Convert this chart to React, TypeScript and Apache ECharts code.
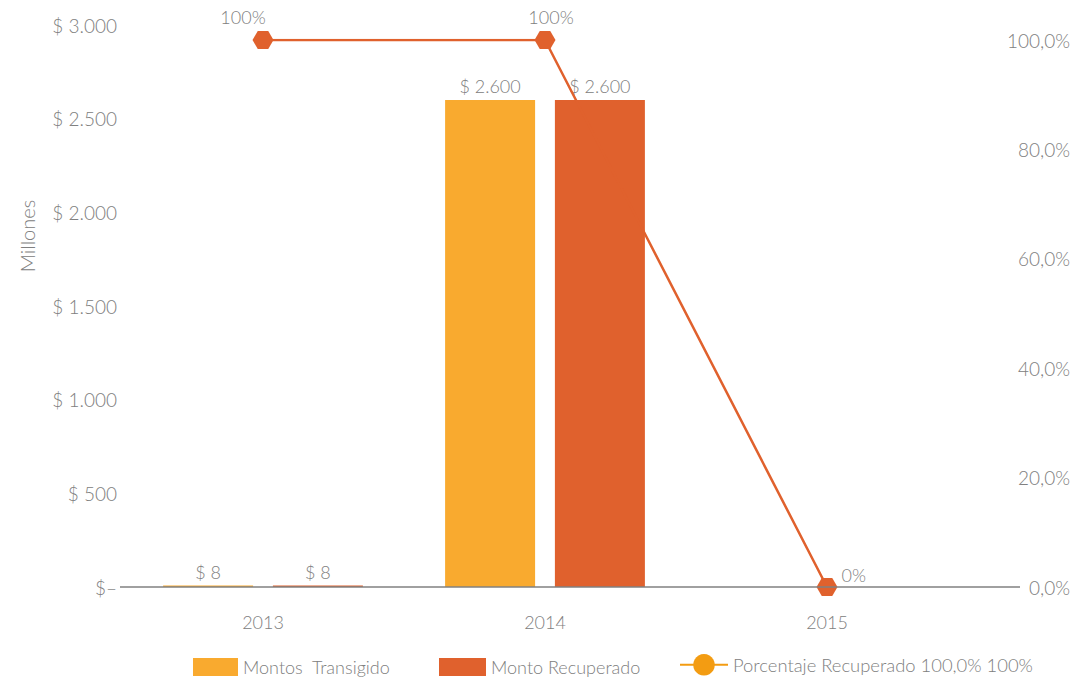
import React, { useEffect, useRef } from "react";
import * as echarts from "echarts";

const categories = ["2013", "2014", "2015"];
const montosTransigido = [8, 2600, 0];
const montoRecuperado = [8, 2600, 0];
const porcentajeRecuperado = [1, 1, 0];
const pctLabels = ["100%", "100%", "0%"];
const leftTicks = [0, 500, 1000, 1500, 2000, 2500, 3000];

const GRAY = "#808080";
const FONT = "Lato";
const W300 = 300;
const ORANGE = "#F9AA2F";
const RED = "#E0612D";

const fmtMoney = (v: number) =>
  v === 0 ? "$\u2013" : "$ " + String(v).replace(/\B(?=(\d{3})+(?!\d))/g, ".");

export default function App() {
  const ref = useRef<HTMLDivElement>(null);
  useEffect(() => {
    if (!ref.current) return;
    const chart = echarts.init(ref.current, null, { renderer: "svg" });
    const H = 685;
    const gridLeft = 122;
    const gridRight = 123;
    const gridBottom = 98;
    const zeroY = H - gridBottom;
    const hexagon = "path://M0,5 L3,0 L9,0 L12,5 L9,10 L3,10 Z";
    const txt = { color: GRAY, fontFamily: FONT, fontWeight: W300 };
    chart.setOption({
      animation: false,
      textStyle: { fontFamily: FONT },
      grid: [
        { left: gridLeft, right: gridRight, top: 25, bottom: gridBottom },
        { left: gridLeft, right: gridRight, top: 40, bottom: gridBottom },
      ],
      xAxis: [
        {
          type: "category",
          gridIndex: 0,
          data: categories,
          axisLine: { show: false },
          axisTick: { show: false },
          axisLabel: { ...txt, fontSize: 18, margin: 26 },
        },
        {
          type: "category",
          gridIndex: 1,
          data: categories,
          show: false,
        },
      ],
      yAxis: [
        {
          type: "value",
          gridIndex: 0,
          min: 0,
          max: 3000,
          interval: 500,
          splitLine: { show: false },
          axisLine: { show: false },
          axisTick: { show: false },
          axisLabel: {
            ...txt,
            fontSize: 19,
            margin: 5,
            formatter: (v: number) => (leftTicks.includes(v) ? fmtMoney(v) : ""),
          },
        },
        {
          type: "value",
          gridIndex: 1,
          position: "right",
          min: 0,
          max: 1,
          interval: 0.2,
          splitLine: { show: false },
          axisLine: { show: false },
          axisTick: { show: false },
          axisLabel: {
            ...txt,
            fontSize: 19,
            align: "right",
            margin: 102,
            formatter: (v: number) => (v * 100).toFixed(1).replace(".", ",") + "%",
          },
        },
      ],
      legend: [
        {
          left: 188,
          top: 653,
          itemWidth: 45,
          itemHeight: 18,
          icon: "rect",
          textStyle: { ...txt, fontSize: 18 },
          data: ["Montos  Transigido"],
        },
        {
          left: 434,
          top: 653,
          itemWidth: 47,
          itemHeight: 18,
          icon: "rect",
          textStyle: { ...txt, fontSize: 18 },
          data: ["Monto Recuperado"],
        },
        {
          left: 674,
          top: 649,
          itemWidth: 48,
          itemHeight: 27,
          textStyle: { ...txt, fontSize: 18.4 },
          data: ["Porcentaje Recuperado 100,0% 100%"],
        },
      ],
      series: [
        {
          name: "Montos  Transigido",
          type: "bar",
          xAxisIndex: 0,
          yAxisIndex: 0,
          data: montosTransigido,
          barWidth: 90,
          barGap: "22%",
          itemStyle: { color: ORANGE },
          label: {
            show: true,
            position: "top",
            distance: 5,
            ...txt,
            fontSize: 18,
            formatter: (p: any) => (p.value === 0 ? "" : fmtMoney(p.value)),
          },
        },
        {
          name: "Monto Recuperado",
          type: "bar",
          xAxisIndex: 0,
          yAxisIndex: 0,
          data: montoRecuperado,
          barWidth: 90,
          barGap: "22%",
          itemStyle: { color: RED },
          label: {
            show: true,
            position: "top",
            distance: 5,
            ...txt,
            fontSize: 18,
            formatter: (p: any) => (p.value === 0 ? "" : fmtMoney(p.value)),
          },
        },
        {
          name: "Porcentaje",
          type: "line",
          xAxisIndex: 1,
          yAxisIndex: 1,
          z: 5,
          symbol: hexagon,
          symbolSize: [21, 18],
          itemStyle: { color: RED },
          lineStyle: { color: RED, width: 2.5 },
          data: porcentajeRecuperado.map((v, i) => ({
            value: v,
            label:
              i === 2
                ? { ...txt, position: "right", offset: [0, -12], distance: 4 }
                : { ...txt, position: "top", distance: 5, offset: i === 0 ? [-20, 0] : [6, 0] },
          })),
          label: {
            show: true,
            ...txt,
            fontSize: 18,
            formatter: (p: any) => pctLabels[p.dataIndex],
          },
        },
        {
          name: "Porcentaje Recuperado 100,0% 100%",
          type: "line",
          xAxisIndex: 1,
          yAxisIndex: 1,
          data: [],
          symbol: "circle",
          itemStyle: { color: "#F39C12" },
          lineStyle: { color: "#F39C12", width: 3 },
        },
      ],
      graphic: [
        {
          type: "line",
          shape: { x1: 120, y1: zeroY, x2: 1020, y2: zeroY },
          style: { stroke: GRAY, lineWidth: 1.5 },
          z: 100,
        },
        {
          type: "text",
          x: 27,
          y: 236,
          rotation: Math.PI / 2,
          style: {
            text: "Millones",
            fill: GRAY,
            fontSize: 20,
            fontFamily: FONT,
            fontWeight: W300,
            align: "center",
            verticalAlign: "middle",
          },
        },
      ],
    });
    return () => chart.dispose();
  }, []);
  return <div ref={ref} style={{ width: 1091, height: 685, marginLeft: -8, marginTop: -8 }} />;
}
